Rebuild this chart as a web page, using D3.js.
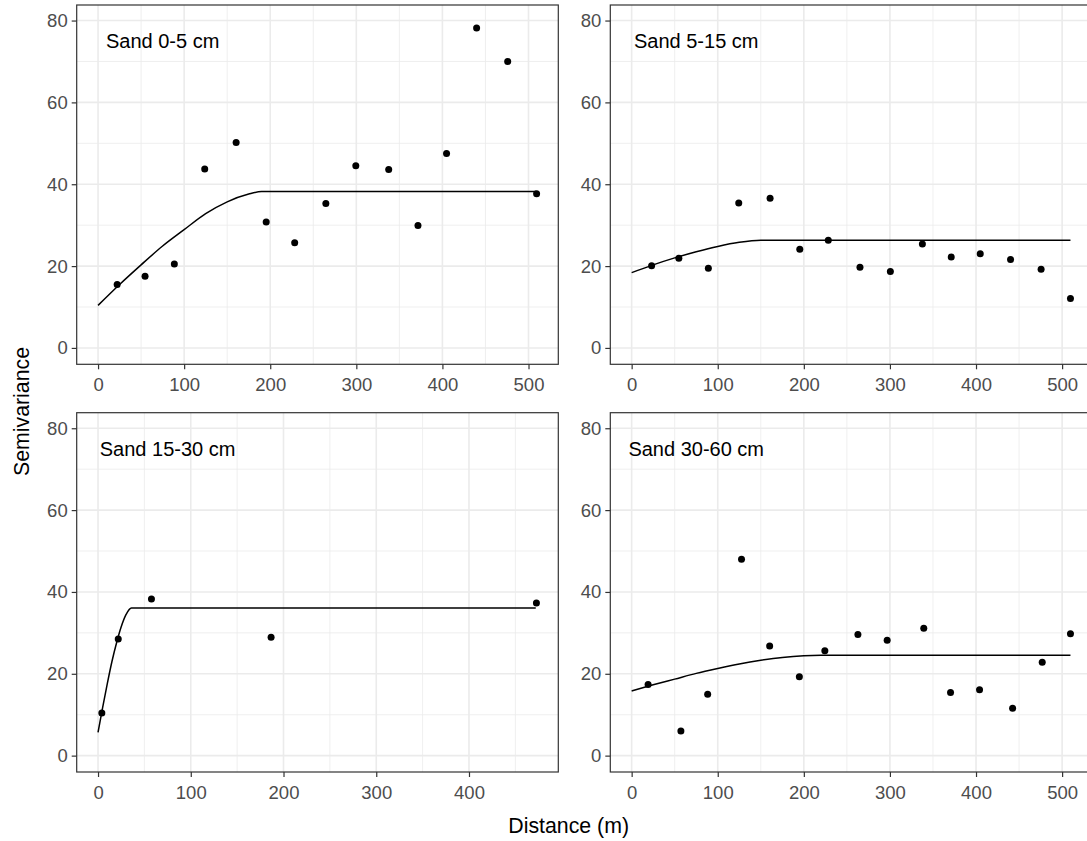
<!DOCTYPE html>
<html><head><meta charset="utf-8">
<script src="https://cdn.jsdelivr.net/npm/d3@7"></script>
<style>
body{margin:0;background:#fff;}
text{font-family:"Liberation Sans",Arial,sans-serif;}
</style>
</head><body>
<svg id="chart" width="1087" height="841"></svg>
<script>
// ---------------- data ----------------
const panelLabels = ["Sand 0-5 cm", "Sand 5-15 cm", "Sand 15-30 cm", "Sand 30-60 cm"];

// empirical semivariogram points
const dist1  = [22.2, 54.6, 88.6, 123.9, 160.4, 195.3, 228.4, 264.6, 299.4, 337.6, 371.6, 404.8, 439.7, 475.8, 509.4];
const gamma1 = [15.5, 17.5, 20.5, 43.7, 50.2, 30.8, 25.7, 35.3, 44.5, 43.6, 29.9, 47.5, 78.2, 70.0, 37.7];

const dist2  = [23.2, 54.8, 89.1, 124.4, 160.8, 195.3, 228.4, 265.2, 300.5, 337.7, 371.2, 404.9, 440.1, 475.6, 509.7];
const gamma2 = [20.1, 21.9, 19.5, 35.4, 36.6, 24.1, 26.3, 19.7, 18.7, 25.4, 22.2, 23.0, 21.6, 19.2, 12.1];

const dist3  = [4.1, 21.8, 57.6, 186.6, 472.7];
const gamma3 = [10.4, 28.5, 38.3, 28.9, 37.3];

const dist4  = [19.1, 57.2, 88.3, 127.6, 160.3, 194.8, 224.4, 262.8, 296.8, 339.3, 370.4, 404.1, 442.5, 476.9, 509.7];
const gamma4 = [17.4, 6.0, 15.0, 48.0, 26.8, 19.3, 25.6, 29.6, 28.2, 31.1, 15.4, 16.1, 11.6, 22.8, 29.8];

// fitted model lines
const modelDist1  = [0, 25, 50, 75, 100, 125, 150, 175, 190, 509];
const modelGamma1 = [10.4, 15.5, 20.3, 24.9, 28.9, 32.8, 35.7, 37.6, 38.2, 38.2];

const modelDist2  = [0, 25, 50, 75, 100, 125, 150, 509.7];
const modelGamma2 = [18.4, 20.3, 22.0, 23.5, 24.8, 25.8, 26.3, 26.3];

const modelDist3  = [0, 5, 10, 15, 20, 25, 30, 36, 472];
const modelGamma3 = [5.7, 11.8, 17.6, 23.0, 27.6, 31.5, 34.4, 36.1, 36.1];

const modelDist4  = [0, 25, 50, 75, 100, 125, 150, 175, 200, 220, 509.7];
const modelGamma4 = [15.8, 17.3, 18.7, 20.1, 21.3, 22.4, 23.3, 24.0, 24.4, 24.5, 24.5];

const xTicksFull  = [0, 100, 200, 300, 400, 500];
const xTicksShort = [0, 100, 200, 300, 400];
const yTicks = [0, 20, 40, 60, 80];
const annotX = 75, annotY = 75;

// ---------------- layout ----------------
const panelW = 481.6, panelH = 359.3;
const panels = [
  {x0: 76.7,  y0: 5,     xd: [-24.8, 534.6], xt: xTicksFull,  d: dist1, g: gamma1, md: modelDist1, mg: modelGamma1},
  {x0: 610.3, y0: 5,     xd: [-24.8, 534.6], xt: xTicksFull,  d: dist2, g: gamma2, md: modelDist2, mg: modelGamma2},
  {x0: 76.7,  y0: 412.7, xd: [-23.0, 496.3], xt: xTicksShort, d: dist3, g: gamma3, md: modelDist3, mg: modelGamma3},
  {x0: 610.3, y0: 412.7, xd: [-24.8, 534.6], xt: xTicksFull,  d: dist4, g: gamma4, md: modelDist4, mg: modelGamma4}
];
const yDomain = [-4.0, 83.8];

const svg = d3.select("#chart");
svg.append("rect").attr("width", 1087).attr("height", 841).attr("fill", "#fff");

panels.forEach((p, i) => {
  const g = svg.append("g").attr("transform", `translate(${p.x0},${p.y0})`);
  const x = d3.scaleLinear().domain(p.xd).range([0, panelW]);
  const y = d3.scaleLinear().domain(yDomain).range([panelH, 0]);

  g.append("rect").attr("width", panelW).attr("height", panelH).attr("fill", "#fff");

  // minor grid
  const xMinor = p.xt.map(t => t + 50).filter(t => t > p.xd[0] && t < p.xd[1]);
  const yMinor = yTicks.map(t => t + 10).filter(t => t > yDomain[0] && t < yDomain[1]);
  g.selectAll(".xminor").data(xMinor).enter().append("line")
    .attr("x1", d => x(d)).attr("x2", d => x(d)).attr("y1", 0).attr("y2", panelH)
    .attr("stroke", "#EBEBEB").attr("stroke-width", 0.8);
  g.selectAll(".yminor").data(yMinor).enter().append("line")
    .attr("y1", d => y(d)).attr("y2", d => y(d)).attr("x1", 0).attr("x2", panelW)
    .attr("stroke", "#EBEBEB").attr("stroke-width", 0.8);
  // major grid
  g.selectAll(".xmajor").data(p.xt).enter().append("line")
    .attr("x1", d => x(d)).attr("x2", d => x(d)).attr("y1", 0).attr("y2", panelH)
    .attr("stroke", "#EBEBEB").attr("stroke-width", 1.6);
  g.selectAll(".ymajor").data(yTicks).enter().append("line")
    .attr("y1", d => y(d)).attr("y2", d => y(d)).attr("x1", 0).attr("x2", panelW)
    .attr("stroke", "#EBEBEB").attr("stroke-width", 1.6);

  // model line
  const lineData = p.md.map((d, k) => [d, p.mg[k]]);
  g.append("path").datum(lineData)
    .attr("d", d3.line().x(d => x(d[0])).y(d => y(d[1])).curve(d3.curveMonotoneX))
    .attr("fill", "none").attr("stroke", "#000").attr("stroke-width", 1.5);

  // points
  g.selectAll(".pt").data(p.d.map((d, k) => [d, p.g[k]])).enter().append("circle")
    .attr("cx", d => x(d[0])).attr("cy", d => y(d[1])).attr("r", 3.5).attr("fill", "#000");

  // annotation
  g.append("text").attr("x", x(annotX)).attr("y", y(annotY)).attr("dy", "0.35em")
    .attr("text-anchor", "middle").attr("font-size", "20px").attr("fill", "#000")
    .text(panelLabels[i]);

  // border
  g.append("rect").attr("width", panelW).attr("height", panelH)
    .attr("fill", "none").attr("stroke", "#333333").attr("stroke-width", 1.2);

  // axes
  const xAxis = d3.axisBottom(x).tickValues(p.xt).tickSize(5).tickPadding(4).tickFormat(d3.format("d"));
  const xa = g.append("g").attr("transform", `translate(0,${panelH})`).call(xAxis);
  const yAxis = d3.axisLeft(y).tickValues(yTicks).tickSize(5).tickPadding(4).tickFormat(d3.format("d"));
  const ya = g.append("g").call(yAxis);
  [xa, ya].forEach(a => {
    a.select(".domain").remove();
    a.selectAll(".tick line").attr("stroke", "#333333").attr("stroke-width", 1.2);
    a.selectAll(".tick text").attr("fill", "#4D4D4D").attr("font-size", "18.5px")
      .attr("font-family", '"Liberation Sans", Arial, sans-serif');
  });
  xa.selectAll(".tick text").attr("dy", "0.95em");
});

// axis titles
svg.append("text").attr("x", 568.7).attr("y", 833).attr("text-anchor", "middle")
  .attr("font-size", "21.3px").attr("fill", "#000").text("Distance (m)");
svg.append("text").attr("transform", "translate(29,411.5) rotate(-90)").attr("text-anchor", "middle")
  .attr("font-size", "21.3px").attr("fill", "#000").text("Semivariance");
</script>
</body></html>
